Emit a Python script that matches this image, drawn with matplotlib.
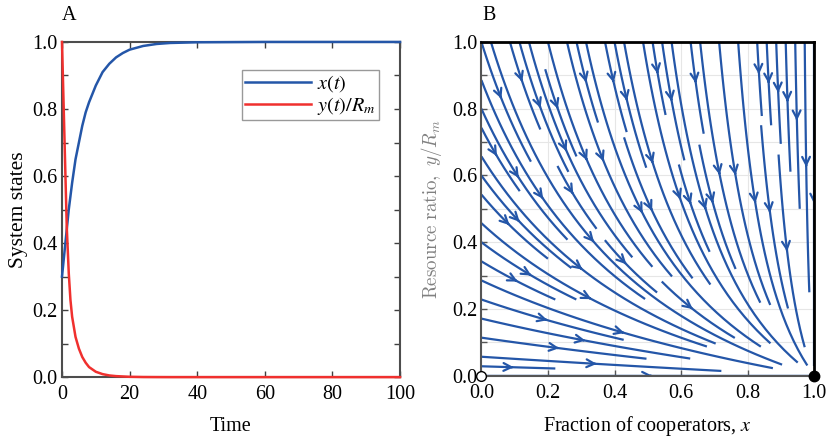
import numpy as np
import matplotlib
matplotlib.use("Agg")
import matplotlib.pyplot as plt
from matplotlib.ticker import MultipleLocator

plt.rcParams['font.family'] = ['Liberation Serif', 'DejaVu Serif']
plt.rcParams['mathtext.fontset'] = 'stix'

# ---- Panel A data ----
time = [0, 1.4, 2, 2.5, 3, 4, 5, 6, 7, 8, 10, 12, 14, 16, 18, 20, 24, 28, 32, 40, 60, 100]
x_t = [0.30, 0.44, 0.50, 0.54, 0.58, 0.65, 0.70, 0.75, 0.79, 0.82, 0.87, 0.91, 0.935,
       0.954, 0.967, 0.977, 0.988, 0.994, 0.997, 0.999, 1.0, 1.0]
y_t = [1.0, 0.45, 0.31, 0.23, 0.18, 0.12, 0.085, 0.06, 0.043, 0.03, 0.016, 0.009, 0.005,
       0.003, 0.002, 0.001, 0.0003, 0.0001, 0.0, 0.0, 0.0, 0.0]
legend_labels = [r'$x(t)$', r'$y(t)/R_m$']
a_xticks = [0, 20, 40, 60, 80, 100]
a_yticks = [0.0, 0.2, 0.4, 0.6, 0.8, 1.0]

# ---- Panel B: phase-plane field parameters ----
x_rate = 1.0        # dx/dt = x_rate*(1-x)
y_rate = 1.0        # dy/dt = -y_rate*y*(1 + y_quad*y)
y_quad = 2.2
b_ticks = [0.0, 0.2, 0.4, 0.6, 0.8, 1.0]
fixed_open = (0.0, 0.0)
fixed_filled = (1.0, 0.0)

blue = '#2456a8'
red = '#f0302e'
FS = 14.5

fig = plt.figure(figsize=(8.3, 4.37), dpi=100)
axA = fig.add_axes([0.0747, 0.137, 0.4073, 0.767])
axB = fig.add_axes([0.580, 0.140, 0.401, 0.764])

# ---- Panel A ----
axA.plot(time, x_t, color=blue, lw=1.8, label=legend_labels[0], clip_on=False, zorder=3)
axA.plot(time, y_t, color=red, lw=1.8, label=legend_labels[1], clip_on=False, zorder=3)
axA.set_xlim(0, 100)
axA.set_ylim(0, 1)
axA.set_xticks(a_xticks)
axA.set_yticks(a_yticks)
axA.yaxis.set_minor_locator(MultipleLocator(0.1))
axA.set_yticklabels([f'{v:.1f}' for v in a_yticks])
axA.tick_params(direction='in', which='both', top=True, right=True, labelsize=FS,
                length=4, width=1.0, color='#404040')
axA.tick_params(axis='x', pad=6)
axA.tick_params(axis='y', pad=3)
for s in axA.spines.values():
    s.set_color('#4d4d4d')
    s.set_linewidth(1.5)
axA.set_xlabel('Time', fontsize=FS, labelpad=9)
axA.set_ylabel('System states', fontsize=15.5, labelpad=3)
leg = axA.legend(loc='upper right', bbox_to_anchor=(0.937, 0.915), fontsize=FS,
                 frameon=True, fancybox=False, handlelength=3.3, borderpad=0.15,
                 labelspacing=0.05, handletextpad=0.3, borderaxespad=0)
leg.get_frame().set_edgecolor('#808080')
leg.get_frame().set_linewidth(1.0)
fig.text(0.074, 0.965, 'A', fontsize=FS, ha='left', va='center')

# ---- Panel B ----
gx = np.linspace(0, 1, 200)
gy = np.linspace(0, 1, 200)
X, Y = np.meshgrid(gx, gy)
U = x_rate * (1 - X)
V = -y_rate * Y * (1 + y_quad * Y)
kw = dict(density=1.2, color=blue, linewidth=1.6, arrowsize=1.4, arrowstyle='->',
          minlength=0.2)
try:
    axB.streamplot(X, Y, U, V, num_arrows=2, **kw)
except TypeError:
    axB.streamplot(X, Y, U, V, **kw)
axB.plot([0, 1], [0, 0], color=blue, lw=1.6, zorder=2.5)
axB.set_xlim(0, 1)
axB.set_ylim(0, 1)
axB.set_xticks(b_ticks)
axB.set_yticks(b_ticks)
axB.set_xticklabels([f'{v:.1f}' for v in b_ticks])
axB.set_yticklabels([f'{v:.1f}' for v in b_ticks])
axB.yaxis.set_minor_locator(MultipleLocator(0.1))
axB.grid(True, which='major', axis='x', color='#e6e6e6', lw=0.8)
axB.grid(True, which='both', axis='y', color='#e6e6e6', lw=0.8)
axB.set_axisbelow(True)
axB.tick_params(direction='in', which='both', labelsize=FS, length=4, width=1.0,
                color='#555555')
axB.tick_params(axis='x', pad=6)
axB.tick_params(axis='y', pad=3)
axB.spines['left'].set_color('#555555')
axB.spines['bottom'].set_color('#555555')
axB.spines['left'].set_linewidth(1.5)
axB.spines['bottom'].set_linewidth(1.5)
axB.spines['top'].set_color('black')
axB.spines['right'].set_color('black')
axB.spines['top'].set_linewidth(2.0)
axB.spines['right'].set_linewidth(2.0)
axB.plot([fixed_open[0]], [fixed_open[1]], 'o', ms=7, mfc='white', mec='black', mew=1.0,
         clip_on=False, zorder=10)
axB.plot([fixed_filled[0]], [fixed_filled[1]], 'o', ms=7.5, mfc='black', mec='black',
         clip_on=False, zorder=10)
axB.set_xlabel('Fraction of cooperators, $x$', fontsize=14.5, labelpad=8)
axB.set_ylabel(r'$\mathrm{Resource\ ratio,}\ y/R_m$', fontsize=13.7, color='#808080',
               labelpad=6, math_fontfamily='cm')
fig.text(0.581, 0.965, 'B', fontsize=FS, ha='left', va='center')

fig.savefig('out.png', dpi=100)
